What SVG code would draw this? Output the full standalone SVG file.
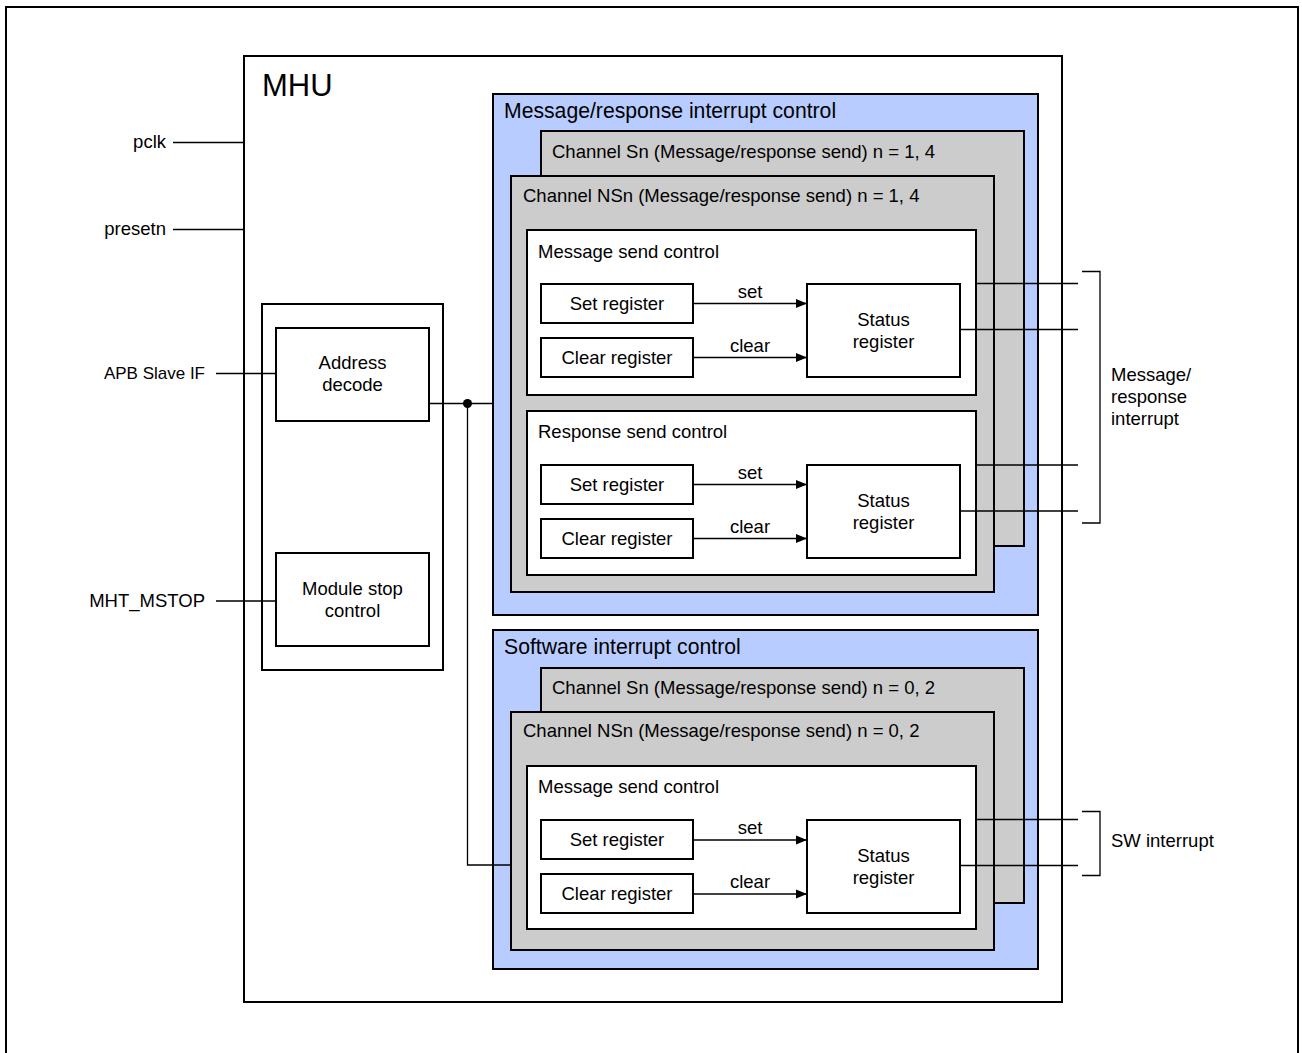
<svg xmlns="http://www.w3.org/2000/svg" width="1302" height="1053" viewBox="0 0 1302 1053">
<style>
text{font-family:"Liberation Sans",Arial,sans-serif;fill:#000;font-size:18.5px}
.box{fill:#fff;stroke:#000;stroke-width:2}
.blue{fill:#B8CCFF;stroke:#000;stroke-width:2}
.gray{fill:#CCCCCC;stroke:#000;stroke-width:2}
.ln{fill:none;stroke:#000;stroke-width:1.3}
.c{text-anchor:middle}
.r{text-anchor:end}
.t1{font-size:21.2px}
.big{font-size:31px}
</style>
<defs>
<marker id="ah" markerWidth="11" markerHeight="10" refX="11" refY="5" orient="auto" markerUnits="userSpaceOnUse">
<path d="M0,0.5 L11,5 L0,9.5 Z" fill="#000"/>
</marker>
</defs>
<rect width="1302" height="1053" fill="#fff"/>
<g id="frame"><path d="M6,1053 V7 H1298 V1053" fill="none" stroke="#000" stroke-width="2"/></g>

<g id="mhu"><rect class="box" x="244" y="56" width="818" height="946"/><text class="big" x="262" y="96">MHU</text></g>

<g id="left-block"><rect class="box" x="262" y="304" width="181" height="366"/></g>
<g id="address-decode"><rect class="box" x="276" y="328" width="153" height="93"/><text class="c" x="352.5" y="369">Address</text><text class="c" x="352.5" y="391">decode</text></g>
<g id="module-stop"><rect class="box" x="276" y="553" width="153" height="93"/><text class="c" x="352.5" y="595">Module stop</text><text class="c" x="352.5" y="617">control</text></g>

<g id="msg-resp-ctrl"><rect class="blue" x="493" y="94" width="545" height="521"/><text class="t1" x="504" y="118">Message/response interrupt control</text></g>
<g id="ch-sn-1"><rect class="gray" x="541" y="131" width="483" height="415"/><text x="552" y="158">Channel Sn (Message/response send) n = 1, 4</text></g>
<g id="ch-nsn-1"><rect class="gray" x="511" y="176" width="483" height="416"/><text x="523" y="202">Channel NSn (Message/response send) n = 1, 4</text></g>
<g id="msg-send-1"><rect class="box" x="527" y="230" width="449" height="165"/><text x="538" y="258">Message send control</text></g>
<g id="set-reg-1"><rect class="box" x="541" y="284" width="152" height="39"/><text class="c" x="617" y="310">Set register</text></g>
<g id="clr-reg-1"><rect class="box" x="541" y="338" width="152" height="39"/><text class="c" x="617" y="364">Clear register</text></g>
<g id="status-1"><rect class="box" x="807" y="284" width="153" height="93"/><text class="c" x="883.5" y="326">Status</text><text class="c" x="883.5" y="348">register</text></g>

<g id="resp-send"><rect class="box" x="527" y="411" width="449" height="164"/><text x="538" y="438">Response send control</text></g>
<g id="set-reg-2"><rect class="box" x="541" y="465" width="152" height="39"/><text class="c" x="617" y="491">Set register</text></g>
<g id="clr-reg-2"><rect class="box" x="541" y="519" width="152" height="39"/><text class="c" x="617" y="545">Clear register</text></g>
<g id="status-2"><rect class="box" x="807" y="465" width="153" height="93"/><text class="c" x="883.5" y="507">Status</text><text class="c" x="883.5" y="529">register</text></g>

<g id="sw-ctrl"><rect class="blue" x="493" y="630" width="545" height="339"/><text class="t1" x="504" y="654">Software interrupt control</text></g>
<g id="ch-sn-2"><rect class="gray" x="541" y="668" width="483" height="235"/><text x="552" y="694">Channel Sn (Message/response send) n = 0, 2</text></g>
<g id="ch-nsn-2"><rect class="gray" x="511" y="712" width="483" height="238"/><text x="523" y="737">Channel NSn (Message/response send) n = 0, 2</text></g>
<g id="msg-send-2"><rect class="box" x="527" y="766" width="449" height="163"/><text x="538" y="793">Message send control</text></g>
<g id="set-reg-3"><rect class="box" x="541" y="820" width="152" height="39"/><text class="c" x="617" y="846">Set register</text></g>
<g id="clr-reg-3"><rect class="box" x="541" y="874" width="152" height="39"/><text class="c" x="617" y="900">Clear register</text></g>
<g id="status-3"><rect class="box" x="807" y="820" width="153" height="93"/><text class="c" x="883.5" y="862">Status</text><text class="c" x="883.5" y="884">register</text></g>

<g id="labels">
<text class="r" x="166" y="148">pclk</text>
<text class="r" x="166" y="235">presetn</text>
<text class="r" x="205" y="379" style="font-size:17px">APB Slave IF</text>
<text class="r" x="205" y="607">MHT_MSTOP</text>
<text x="1111" y="381">Message/</text>
<text x="1111" y="403">response</text>
<text x="1111" y="425">interrupt</text>
<text x="1111" y="847">SW interrupt</text>
<text class="c" x="750" y="298">set</text>
<text class="c" x="750" y="352">clear</text>
<text class="c" x="750" y="479">set</text>
<text class="c" x="750" y="533">clear</text>
<text class="c" x="750" y="834">set</text>
<text class="c" x="750" y="888">clear</text>
</g>

<g id="connectors">
<path class="ln" d="M173,142.5 H244"/>
<path class="ln" d="M173,229.5 H244"/>
<path class="ln" d="M216,373.5 H276"/>
<path class="ln" d="M216,601 H276"/>
<path class="ln" d="M429,403.5 H493"/>
<path class="ln" d="M467.5,403.5 V865 H511"/>
<circle cx="467.5" cy="403.5" r="4.5" fill="#000"/>
<path class="ln" d="M693,303.5 H807" marker-end="url(#ah)"/>
<path class="ln" d="M693,357.5 H807" marker-end="url(#ah)"/>
<path class="ln" d="M693,484.5 H807" marker-end="url(#ah)"/>
<path class="ln" d="M693,538.5 H807" marker-end="url(#ah)"/>
<path class="ln" d="M693,840 H807" marker-end="url(#ah)"/>
<path class="ln" d="M693,894 H807" marker-end="url(#ah)"/>
<path class="ln" d="M976,283.5 H1078"/>
<path class="ln" d="M960,329.5 H1078"/>
<path class="ln" d="M976,465 H1078"/>
<path class="ln" d="M960,511 H1078"/>
<path class="ln" d="M976,819.5 H1078"/>
<path class="ln" d="M960,865.5 H1078"/>
<path class="ln" d="M1082,271.5 H1100 V523 H1082"/>
<path class="ln" d="M1082,811.5 H1100 V875.5 H1082"/>
</g>
</svg>
